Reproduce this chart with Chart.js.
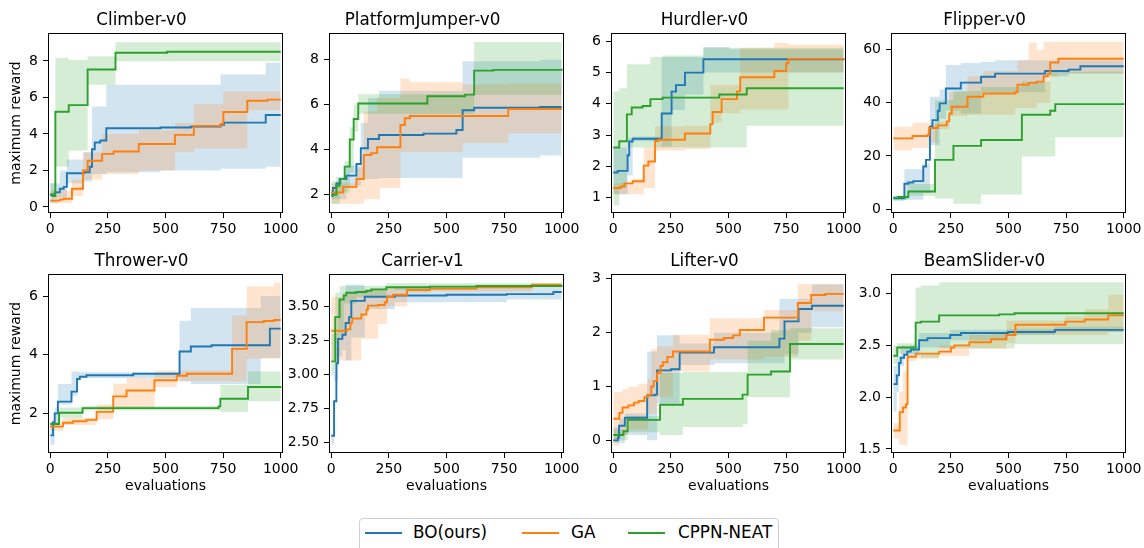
<!DOCTYPE html>
<html>
<head>
<meta charset="utf-8">
<script src="https://cdn.jsdelivr.net/npm/chart.js@4.4.1/dist/chart.umd.min.js"></script>
<style>
  body { margin: 0; background: #fff; width: 1144px; height: 548px; position: relative; overflow: hidden; font-family: 'DejaVu Sans', sans-serif; }
  canvas { position: absolute; }
  #legend { position: absolute; left: 359px; top: 518px; width: 420px; height: 36px; border: 1px solid #d0d0d0; border-radius: 4px; box-sizing: border-box; }
  #legend .ln { position: absolute; top: 13px; width: 37px; height: 2px; }
  #legend .tx { position: absolute; top: 3px; font-size: 16.8px; color: #000; white-space: nowrap; }
</style>
</head>
<body>
<div id="legend"></div>
<script>
const xTicks = [0, 250, 500, 750, 1000];
const methodNames = ['BO(ours)', 'GA', 'CPPN-NEAT'];

// Climber-v0
const climberBO = [[0,0.65],[19,0.8],[41,1.0],[58,1.1],[72,1.85],[145,1.9],[171,2.2],[181,3.16],[193,3.53],[217,3.64],[243,4.31],[478,4.35],[609,4.4],[739,4.5],[754,4.62],[935,5.04],[1000,5.04]];
const climberBOlo = [[0,0.2],[30,0.5],[72,1.3],[145,1.4],[181,1.8],[243,1.9],[478,2.0],[739,2.1],[935,2.2],[1000,2.2]];
const climberBOhi = [[0,1.3],[41,2.0],[72,2.6],[145,3.0],[181,5.5],[243,6.7],[739,7.25],[935,7.9],[1000,7.9]];
const climberGA = [[0,0.35],[41,0.4],[58,0.45],[94,1.0],[142,2.0],[162,2.53],[225,2.91],[275,3.04],[384,3.45],[541,3.95],[623,4.44],[739,4.55],[751,5.2],[855,5.82],[942,5.88],[1000,5.88]];
const climberGAlo = [[0,0.2],[94,0.6],[142,1.5],[225,1.8],[384,2.0],[541,3.0],[623,3.2],[855,5.3],[1000,5.3]];
const climberGAhi = [[0,0.9],[94,1.5],[142,3.0],[225,4.0],[384,4.2],[541,4.6],[623,5.64],[751,6.33],[1000,6.33]];
const climberNEAT = [[0,0.7],[10,0.6],[22,5.22],[80,5.58],[162,7.53],[283,8.45],[507,8.5],[1000,8.5]];
const climberNEATlo = [[0,0.55],[22,2.2],[80,3.1],[162,6.7],[283,7.98],[1000,7.98]];
const climberNEAThi = [[0,1.3],[22,8.18],[80,8.05],[162,8.25],[283,9.02],[1000,9.02]];
const climberTicks = [0, 2, 4, 6, 8];

// PlatformJumper-v0
const pjBO = [[0,1.95],[7,2.3],[22,2.5],[39,2.7],[65,2.85],[109,3.37],[128,4.07],[159,4.48],[207,4.66],[400,4.72],[543,4.88],[570,5.76],[620,5.87],[906,5.9],[1000,5.9]];
const pjBOlo = [[0,1.8],[65,2.4],[128,2.7],[207,2.75],[570,3.65],[906,3.75],[1000,3.75]];
const pjBOhi = [[0,2.2],[22,2.8],[65,3.3],[128,5.2],[159,6.3],[207,6.62],[570,7.93],[906,8.0],[1000,8.0]];
const pjGA = [[0,2.1],[51,2.35],[109,2.7],[141,3.77],[174,3.85],[199,4.11],[300,5.1],[319,5.4],[341,5.5],[768,5.81],[1000,5.81]];
const pjGAlo = [[0,1.6],[141,1.8],[211,2.3],[300,3.9],[570,4.3],[768,4.73],[1000,4.73]];
const pjGAhi = [[0,2.5],[109,3.2],[141,5.7],[199,6.3],[300,7.17],[341,7.0],[570,6.9],[768,6.95],[1000,6.95]];
const pjNEAT = [[0,2.0],[22,2.4],[36,2.7],[58,3.25],[80,4.46],[97,5.37],[117,6.06],[417,6.38],[580,6.45],[620,7.52],[703,7.55],[1000,7.6]];
const pjNEATlo = [[0,1.6],[36,2.1],[80,3.0],[97,4.8],[117,5.6],[620,6.43],[1000,6.43]];
const pjNEAThi = [[0,2.6],[58,3.5],[80,5.0],[97,6.0],[117,6.47],[620,8.79],[1000,8.79]];
const pjTicks = [2, 4, 6, 8];

// Hurdler-v0
const hurBO = [[0,1.8],[19,1.85],[62,2.35],[69,2.79],[84,2.88],[210,3.69],[253,4.39],[272,4.6],[311,5.0],[391,5.43],[1000,5.45]];
const hurBOlo = [[0,1.1],[62,1.7],[84,2.8],[210,2.63],[253,3.8],[311,4.3],[391,5.0],[1000,5.0]];
const hurBOhi = [[0,2.6],[62,2.9],[84,2.95],[210,5.5],[391,5.82],[506,5.75],[1000,5.75]];
const hurGA = [[0,1.3],[33,1.35],[48,1.45],[84,1.52],[132,2.02],[152,2.15],[181,2.81],[195,2.85],[311,3.05],[421,3.35],[431,3.74],[470,4.15],[537,4.4],[551,4.85],[699,5.05],[750,5.3],[760,5.44],[1000,5.45]];
const hurGAlo = [[0,1.1],[132,1.3],[181,2.5],[311,2.55],[421,3.4],[470,3.7],[551,3.82],[760,5.0],[1000,5.0]];
const hurGAhi = [[0,1.45],[84,1.6],[132,2.6],[181,3.27],[311,3.3],[421,4.6],[551,5.8],[699,5.95],[760,5.9],[1000,5.9]];
const hurNEAT = [[0,2.6],[26,2.8],[59,3.66],[80,3.88],[127,3.93],[161,4.15],[214,4.2],[460,4.3],[579,4.5],[1000,4.5]];
const hurNEATlo = [[0,0.75],[26,1.3],[59,2.6],[579,3.3],[1000,3.3]];
const hurNEAThi = [[0,4.4],[26,4.5],[59,5.27],[161,5.5],[214,5.55],[391,5.8],[1000,5.8]];
const hurTicks = [1, 2, 3, 4, 5, 6];

// Flipper-v0
const flipBO = [[0,4],[48,9.5],[65,10],[87,10.5],[130,16],[142,18.5],[159,31],[170,33.5],[193,37],[201,39.8],[228,45.4],[293,47.6],[381,49.8],[442,51],[659,52],[761,52.5],[812,53.8],[1000,53.8]];
const flipBOlo = [[0,3],[48,3.5],[130,6],[159,24],[201,34],[228,37],[293,36],[381,44],[659,50],[761,51],[1000,51]];
const flipBOhi = [[0,5],[48,15],[130,17],[159,42.3],[201,45],[228,54.2],[293,55],[381,55.5],[442,56],[1000,56]];
const flipGA = [[0,26.6],[83,27.5],[149,28],[155,30.5],[193,31.5],[232,33],[243,36],[254,38.5],[322,42.3],[391,43.5],[529,44],[539,46.8],[587,47.5],[623,48],[652,50],[671,51],[681,55.2],[717,56.6],[1000,56.6]];
const flipGAlo = [[0,22],[83,23],[155,25],[193,30],[243,35],[322,35.5],[529,38],[623,40],[681,49.8],[717,51],[1000,51]];
const flipGAhi = [[0,31],[83,32.5],[155,32],[193,33],[243,44],[322,50],[391,52],[539,56],[587,62.6],[623,60],[652,63],[1000,63]];
const flipNEAT = [[0,4.2],[20,4.5],[65,6.6],[181,18.5],[261,23.8],[381,26],[558,35.5],[681,37],[703,39.5],[1000,39.3]];
const flipNEATlo = [[0,3.5],[65,5],[181,4],[261,2],[381,5.5],[558,19.8],[703,27],[1000,27]];
const flipNEAThi = [[0,5],[65,9.4],[181,41],[261,44.5],[381,46],[558,48],[681,51.7],[1000,51.7]];
const flipTicks = [0, 20, 40, 60];

// Thrower-v0
const thrBO = [[0,1.25],[12,1.7],[19,2.0],[33,2.4],[92,2.74],[116,3.17],[128,3.25],[157,3.3],[360,3.35],[561,4.11],[610,4.28],[700,4.32],[953,4.89],[1000,4.89]];
const thrBOlo = [[0,0.93],[19,1.6],[33,2.3],[92,2.6],[116,3.2],[561,3.09],[610,3.0],[913,3.89],[1000,3.89]];
const thrBOhi = [[0,1.7],[19,2.2],[33,3.0],[92,3.43],[125,3.4],[561,5.16],[610,5.59],[913,6.0],[1000,6.0]];
const thrGA = [[0,1.55],[55,1.68],[99,1.73],[157,1.78],[201,2.05],[273,2.58],[331,2.78],[452,3.13],[549,3.28],[593,3.35],[789,4.2],[852,5.11],[927,5.15],[971,5.18],[1000,5.18]];
const thrGAlo = [[0,1.4],[55,1.6],[201,1.8],[273,2.2],[452,2.9],[549,3.1],[789,3.09],[852,3.86],[1000,3.86]];
const thrGAhi = [[0,1.7],[55,1.85],[201,2.3],[273,3.01],[331,3.2],[452,3.45],[549,3.45],[789,5.34],[852,6.32],[971,6.45],[1000,6.45]];
const thrNEAT = [[0,1.64],[38,2.02],[140,2.18],[730,2.24],[738,2.5],[858,2.9],[1000,2.92]];
const thrNEATlo = [[0,1.55],[38,1.85],[140,2.1],[738,2.05],[858,2.41],[1000,2.41]];
const thrNEAThi = [[0,1.7],[38,2.2],[140,2.25],[738,2.98],[858,3.43],[1000,3.43]];
const thrTicks = [2, 4, 6];

// Carrier-v1
const carBO = [[0,2.546],[12,2.80],[22,3.08],[29,3.26],[48,3.29],[62,3.377],[77,3.42],[87,3.54],[145,3.57],[275,3.58],[500,3.585],[761,3.59],[964,3.605],[1000,3.605]];
const carBOlo = [[0,2.48],[12,2.95],[29,3.13],[48,3.18],[62,3.1],[87,3.27],[145,3.48],[275,3.53],[761,3.55],[1000,3.55]];
const carBOhi = [[0,2.56],[12,3.0],[22,3.3],[29,3.55],[48,3.6],[62,3.66],[145,3.62],[275,3.64],[1000,3.65]];
const carGA = [[0,3.32],[68,3.33],[83,3.38],[91,3.41],[130,3.44],[152,3.475],[159,3.505],[203,3.51],[232,3.53],[242,3.57],[268,3.585],[329,3.62],[428,3.63],[630,3.64],[870,3.66],[1000,3.66]];
const carGAlo = [[0,3.1],[83,3.1],[130,3.26],[203,3.37],[242,3.5],[329,3.6],[428,3.61],[870,3.64],[1000,3.64]];
const carGAhi = [[0,3.57],[68,3.6],[130,3.62],[242,3.64],[329,3.65],[870,3.67],[1000,3.67]];
const carNEAT = [[0,3.094],[17,3.42],[36,3.55],[54,3.58],[65,3.60],[109,3.605],[152,3.615],[174,3.625],[239,3.64],[428,3.645],[630,3.65],[1000,3.655]];
const carNEATlo = [[0,3.0],[17,3.08],[36,3.3],[54,3.52],[109,3.57],[239,3.62],[630,3.64],[1000,3.64]];
const carNEAThi = [[0,3.3],[17,3.6],[36,3.65],[239,3.67],[1000,3.67]];
const carTicks = [2.5, 2.75, 3.0, 3.25, 3.5];

// Lifter-v0
const lifBO = [[0,0.0],[20,0.05],[25,0.27],[50,0.42],[147,0.835],[180,0.85],[190,1.3],[250,1.32],[288,1.63],[437,1.73],[721,1.89],[743,2.21],[804,2.44],[862,2.5],[1000,2.5]];
const lifBOlo = [[0,-0.05],[50,0.1],[147,0.0],[190,0.69],[288,1.4],[437,1.43],[743,1.6],[804,2.0],[862,2.1],[1000,2.1]];
const lifBOhi = [[0,0.25],[25,0.4],[50,0.5],[147,1.65],[190,1.95],[288,1.8],[437,2.0],[721,2.63],[862,2.9],[1000,2.9]];
const lifGA = [[0,0.4],[26,0.51],[40,0.61],[65,0.65],[90,0.7],[110,0.73],[135,0.8],[150,0.85],[165,1.0],[175,1.1],[190,1.25],[205,1.38],[215,1.45],[235,1.55],[259,1.65],[419,1.87],[480,1.9],[520,1.95],[549,2.05],[654,2.28],[801,2.55],[859,2.7],[920,2.72],[1000,2.72]];
const lifGAlo = [[0,-0.1],[26,0.1],[65,0.2],[150,0.5],[190,0.8],[259,1.28],[419,1.5],[654,1.55],[801,1.85],[859,2.4],[1000,2.4]];
const lifGAhi = [[0,0.9],[40,0.95],[65,1.0],[110,1.05],[150,1.15],[165,1.7],[190,1.75],[259,1.96],[419,2.27],[654,2.42],[801,2.9],[1000,2.92]];
const lifNEAT = [[0,0.1],[44,0.17],[62,0.38],[203,0.66],[302,0.77],[561,0.85],[583,1.22],[685,1.28],[767,1.79],[1000,1.79]];
const lifNEATlo = [[0,0.0],[62,0.15],[203,0.1],[302,0.25],[561,0.3],[583,0.8],[767,1.5],[1000,1.5]];
const lifNEAThi = [[0,0.2],[62,0.45],[203,1.25],[302,1.27],[583,1.85],[685,2.05],[767,2.08],[1000,2.08]];
const lifTicks = [0, 1, 2, 3];

// BeamSlider-v0
const bsBO = [[0,2.126],[15,2.21],[25,2.33],[32,2.38],[47,2.41],[61,2.44],[76,2.46],[112,2.55],[148,2.57],[247,2.6],[294,2.62],[497,2.63],[701,2.65],[1000,2.65]];
const bsBOlo = [[0,1.86],[15,2.05],[25,2.3],[47,2.4],[112,2.48],[247,2.55],[497,2.6],[701,2.63],[1000,2.63]];
const bsBOhi = [[0,2.3],[15,2.4],[32,2.5],[112,2.62],[247,2.65],[497,2.66],[701,2.68],[1000,2.68]];
const bsGA = [[0,1.677],[28,1.855],[42,1.9],[55,1.93],[62,2.39],[97,2.42],[199,2.44],[250,2.48],[265,2.5],[330,2.53],[424,2.56],[490,2.6],[530,2.7],[747,2.73],[831,2.75],[933,2.79],[1000,2.79]];
const bsGAlo = [[0,1.6],[25,1.54],[62,2.35],[97,2.37],[199,2.4],[330,2.47],[490,2.52],[530,2.6],[933,2.63],[1000,2.63]];
const bsGAhi = [[0,1.75],[25,2.05],[42,2.25],[62,2.4],[97,2.42],[199,2.5],[330,2.6],[424,2.62],[490,2.74],[747,2.78],[831,2.85],[933,2.99],[1000,2.99]];
const bsNEAT = [[0,2.40],[17,2.48],[97,2.72],[119,2.73],[199,2.79],[460,2.80],[526,2.81],[1000,2.81]];
const bsNEATlo = [[0,2.32],[17,2.42],[119,2.38],[199,2.47],[526,2.51],[1000,2.51]];
const bsNEAThi = [[0,2.5],[17,2.52],[97,3.06],[119,3.08],[199,3.11],[1000,3.11]];
const bsTicks = [1.5, 2.0, 2.5, 3.0];

const colors = ['#1f77b4', '#ff7f0e', '#2ca02c'];
const bands = ['rgba(31,119,180,0.2)', 'rgba(255,127,14,0.2)', 'rgba(44,160,44,0.2)'];

const panels = [
  { title: 'Climber-v0', s: [[climberBO, climberBOlo, climberBOhi], [climberGA, climberGAlo, climberGAhi], [climberNEAT, climberNEATlo, climberNEAThi]], ticks: climberTicks, min: -0.33, max: 9.53, dec: 0 },
  { title: 'PlatformJumper-v0', s: [[pjBO, pjBOlo, pjBOhi], [pjGA, pjGAlo, pjGAhi], [pjNEAT, pjNEATlo, pjNEAThi]], ticks: pjTicks, min: 1.19, max: 9.19, dec: 0 },
  { title: 'Hurdler-v0', s: [[hurBO, hurBOlo, hurBOhi], [hurGA, hurGAlo, hurGAhi], [hurNEAT, hurNEATlo, hurNEAThi]], ticks: hurTicks, min: 0.5, max: 6.27, dec: 0 },
  { title: 'Flipper-v0', s: [[flipBO, flipBOlo, flipBOhi], [flipGA, flipGAlo, flipGAhi], [flipNEAT, flipNEATlo, flipNEAThi]], ticks: flipTicks, min: -1.5, max: 66.3, dec: 0 },
  { title: 'Thrower-v0', s: [[thrBO, thrBOlo, thrBOhi], [thrGA, thrGAlo, thrGAhi], [thrNEAT, thrNEATlo, thrNEAThi]], ticks: thrTicks, min: 0.65, max: 6.75, dec: 0 },
  { title: 'Carrier-v1', s: [[carBO, carBOlo, carBOhi], [carGA, carGAlo, carGAhi], [carNEAT, carNEATlo, carNEAThi]], ticks: carTicks, min: 2.419, max: 3.738, dec: 2 },
  { title: 'Lifter-v0', s: [[lifBO, lifBOlo, lifBOhi], [lifGA, lifGAlo, lifGAhi], [lifNEAT, lifNEATlo, lifNEAThi]], ticks: lifTicks, min: -0.235, max: 3.09, dec: 0 },
  { title: 'BeamSlider-v0', s: [[bsBO, bsBOlo, bsBOhi], [bsGA, bsGAlo, bsGAhi], [bsNEAT, bsNEATlo, bsNEAThi]], ticks: bsTicks, min: 1.46, max: 3.19, dec: 1 }
];

Chart.defaults.font.family = "'DejaVu Sans', sans-serif";
Chart.defaults.color = '#000';

// full box around each plot area, like matplotlib spines
const frame = {
  id: 'frame',
  afterDraw(c) {
    const a = c.chartArea, ctx = c.ctx;
    ctx.save();
    ctx.strokeStyle = '#000';
    ctx.lineWidth = 1;
    ctx.strokeRect(a.left + 0.5, a.top + 0.5, a.right - a.left - 1, a.bottom - a.top - 1);
    ctx.restore();
  }
};

const pts = arr => arr.map(p => ({ x: p[0], y: p[1] }));
const boxLeft = [48, 329, 611, 891];
const boxW = 235, yW = 48, padR = 20, titleH = 33;

panels.forEach((p, i) => {
  const row = Math.floor(i / 4), col = i % 4;
  const boxH = row === 0 ? 180 : 179;
  const xH = row === 0 ? 25 : 46;
  const cv = document.createElement('canvas');
  cv.width = yW + boxW + padR;
  cv.height = titleH + boxH + xH;
  cv.style.left = (boxLeft[col] - yW) + 'px';
  cv.style.top = (row === 0 ? 0 : 241) + 'px';
  document.body.appendChild(cv);

  const datasets = [];
  p.s.forEach((ser, k) => {
    const base = { stepped: 'before', pointRadius: 0, borderWidth: 0, borderColor: 'rgba(0,0,0,0)', order: 12 - k };
    datasets.push(Object.assign({ data: pts(ser[1]), fill: false }, base));
    datasets.push(Object.assign({ data: pts(ser[2]), fill: { target: datasets.length - 1 }, backgroundColor: bands[k] }, base));
  });
  p.s.forEach((ser, k) => {
    datasets.push({ label: methodNames[k], data: pts(ser[0]), stepped: 'before', pointRadius: 0, borderWidth: 1.9, borderColor: colors[k], fill: false, order: 3 - k });
  });

  const tickGrid = { display: true, drawOnChartArea: false, drawTicks: true, tickLength: 5, color: '#000', lineWidth: 1 };
  new Chart(cv, {
    type: 'line',
    data: { datasets },
    options: {
      responsive: false,
      animation: false,
      devicePixelRatio: 1,
      layout: { padding: { right: padR } },
      plugins: {
        legend: { display: false },
        tooltip: { enabled: false },
        title: { display: true, text: p.title, font: { size: 16.8, weight: 'normal' }, color: '#000', padding: { top: 10.6, bottom: 2.24 } }
      },
      scales: {
        x: {
          type: 'linear', min: -10, max: 1010,
          afterBuildTicks: s => { s.ticks = xTicks.map(v => ({ value: v })); },
          afterFit: s => { s.height = xH; },
          grid: tickGrid, border: { display: false },
          ticks: { font: { size: 14 }, color: '#000', padding: 3, maxRotation: 0, autoSkip: false, callback: v => String(v) },
          title: { display: row === 1, text: 'evaluations', font: { size: 14 }, color: '#000', padding: { top: 0, bottom: 4 } }
        },
        y: {
          type: 'linear', min: p.min, max: p.max,
          afterBuildTicks: s => { s.ticks = p.ticks.map(v => ({ value: v })); },
          afterFit: s => { s.width = yW; },
          grid: tickGrid, border: { display: false },
          ticks: { font: { size: 14 }, color: '#000', padding: 5, autoSkip: false, callback: v => v.toFixed(p.dec) },
          title: { display: col === 0, text: 'maximum reward', font: { size: 14 }, color: '#000', padding: { top: 8, bottom: 0 } }
        }
      }
    },
    plugins: [frame]
  });
});

// legend box under the grid
const legend = document.getElementById('legend');
const legendPos = [[5, 53], [162, 211], [268, 318]];
methodNames.forEach((n, k) => {
  const ln = document.createElement('div');
  ln.className = 'ln';
  ln.style.left = legendPos[k][0] + 'px';
  ln.style.background = colors[k];
  legend.appendChild(ln);
  const tx = document.createElement('div');
  tx.className = 'tx';
  tx.style.left = legendPos[k][1] + 'px';
  tx.textContent = n;
  legend.appendChild(tx);
});
</script>
</body>
</html>
